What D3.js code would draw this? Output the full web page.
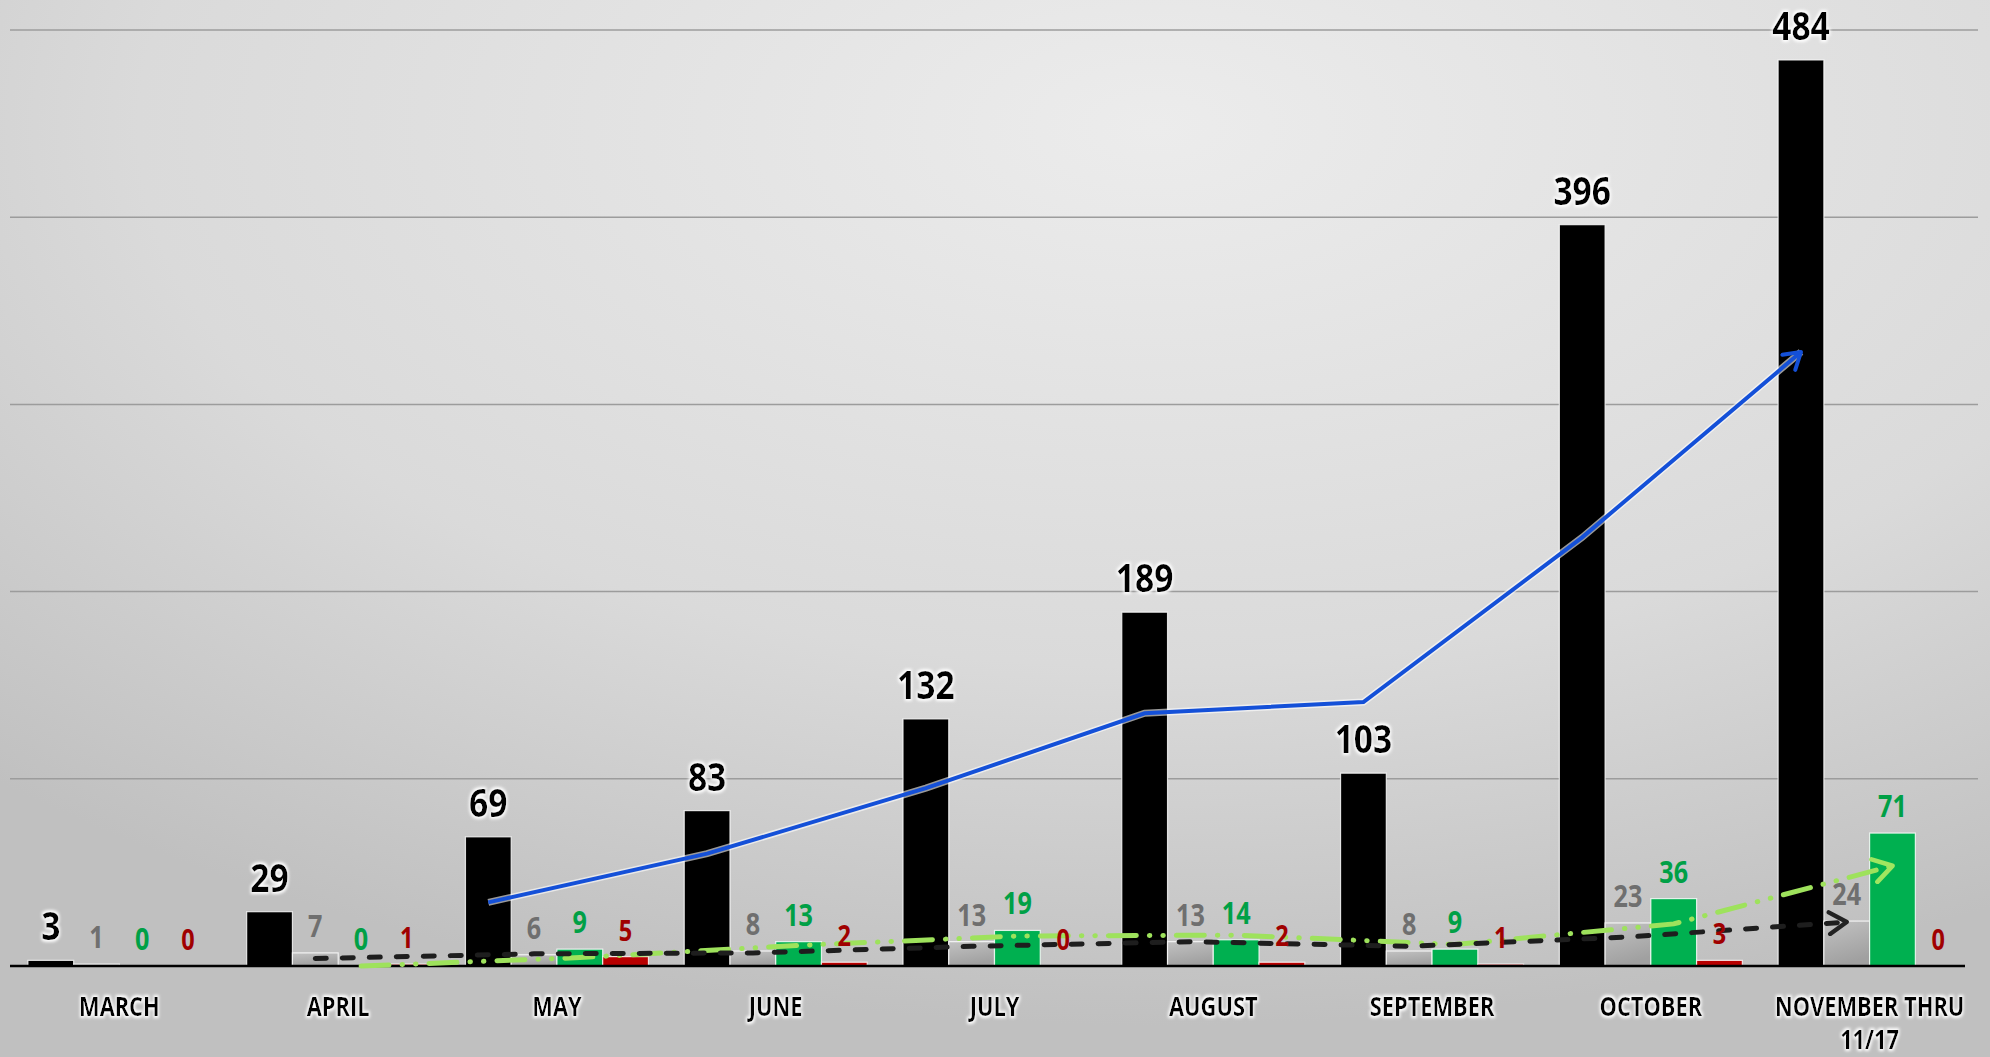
<!DOCTYPE html>
<html>
<head>
<meta charset="utf-8">
<script src="https://cdn.jsdelivr.net/npm/d3@7"></script>
<style>
  html, body { margin: 0; padding: 0; overflow: hidden; }
  svg { display: block; }
  text { font-family: "Open Sans", "Liberation Sans", sans-serif; font-weight: 700; }
</style>
</head>
<body>
<div id="chart"></div>
<script>
// Chart data
const months = ['MARCH', 'APRIL', 'MAY', 'JUNE', 'JULY', 'AUGUST', 'SEPTEMBER', 'OCTOBER', 'NOVEMBER THRU|11/17'];
const seriesKeys = ['black', 'gray', 'green', 'red'];
const blackValues = [3, 29, 69, 83, 132, 189, 103, 396, 484];
const grayValues = [1, 7, 6, 8, 13, 13, 8, 23, 24];
const greenValues = [0, 0, 9, 13, 19, 14, 9, 36, 71];
const redValues = [0, 1, 5, 2, 0, 2, 1, 3, 0];

// trend lines (start month index, values)
const blueTrendStart = 2;
const blueTrend = [34, 60, 95, 135, 141, 229, 328];
const grayTrendStart = 1;
const grayTrend = [4, 6.5, 7, 10.5, 13, 10.5, 15.5, 23.5];
const greenTrendStart = 1;
const greenTrend = [0, 4.5, 11, 16, 16.5, 11.5, 22.5, 53.5];

const gridTicks = [100, 200, 300, 400, 500];

const W = 1990, H = 1057;
const squeeze = 0.84; // narrow the glyphs a bit

const svg = d3.select('#chart')
  .append('svg')
  .attr('width', W)
  .attr('height', H);

const defs = svg.append('defs');

// background gradient
const bg = defs.append('radialGradient')
  .attr('id', 'bg')
  .attr('cx', '58%').attr('cy', '12%').attr('r', '85%');
bg.append('stop').attr('offset', '0%').attr('stop-color', '#ececec');
bg.append('stop').attr('offset', '60%').attr('stop-color', '#dadada');
bg.append('stop').attr('offset', '100%').attr('stop-color', '#c0c0c0');

const grayGrad = defs.append('linearGradient')
  .attr('id', 'grayBar').attr('x1', 0).attr('y1', 0).attr('x2', 0.3).attr('y2', 1);
grayGrad.append('stop').attr('offset', '0%').attr('stop-color', '#c2c2c2');
grayGrad.append('stop').attr('offset', '100%').attr('stop-color', '#a0a0a0');

// soft white glow for text
const glow = defs.append('filter').attr('id', 'glow')
  .attr('x', '-20%').attr('y', '-20%').attr('width', '140%').attr('height', '140%');
glow.append('feMorphology').attr('in', 'SourceAlpha').attr('operator', 'dilate').attr('radius', 1.5).attr('result', 'd');
glow.append('feGaussianBlur').attr('in', 'd').attr('stdDeviation', 1.6).attr('result', 'b');
glow.append('feFlood').attr('flood-color', '#ffffff').attr('result', 'f');
glow.append('feComposite').attr('in', 'f').attr('in2', 'b').attr('operator', 'in').attr('result', 'g');
const gm = glow.append('feMerge');
gm.append('feMergeNode').attr('in', 'g');
gm.append('feMergeNode').attr('in', 'SourceGraphic');

// arrow markers
function arrow(id, color, size) {
  defs.append('marker')
    .attr('id', id)
    .attr('viewBox', '0 0 12 12')
    .attr('refX', 10).attr('refY', 6)
    .attr('markerWidth', size).attr('markerHeight', size)
    .attr('markerUnits', 'userSpaceOnUse')
    .attr('orient', 'auto')
    .append('path')
    .attr('d', 'M2,1 L10,6 L2,11')
    .attr('fill', 'none')
    .attr('stroke', color)
    .attr('stroke-width', 2)
    .attr('stroke-linecap', 'round')
    .attr('stroke-linejoin', 'round');
}
arrow('arrowBlue', '#1450d8', 24);
arrow('arrowBlack', '#222222', 26);
arrow('arrowGreen', '#a0e660', 28);

svg.append('rect').attr('width', W).attr('height', H).attr('fill', 'url(#bg)');

// scales
const x = d3.scaleBand()
  .domain(months)
  .range([10, 1979])
  .paddingInner(0.1636)
  .paddingOuter(0.0818);

const xs = d3.scaleBand()
  .domain(seriesKeys)
  .range([0, x.bandwidth()]);

const y = d3.scaleLinear()
  .domain([0, 500])
  .range([966, 30]);

// gridlines
svg.append('g')
  .selectAll('line')
  .data(gridTicks)
  .enter()
  .append('line')
  .attr('x1', 10).attr('x2', 1978)
  .attr('y1', (d) => y(d)).attr('y2', (d) => y(d))
  .attr('stroke', '#9c9c9c')
  .attr('stroke-width', 1.5);

const series = {
  black: { values: blackValues, fill: '#000000', label: '#000000', size: 40, gap: 20 },
  gray: { values: grayValues, fill: 'url(#grayBar)', label: '#6f6f6f', size: 30, gap: 16 },
  green: { values: greenValues, fill: '#00b050', label: '#00a046', size: 30, gap: 16 },
  red: { values: redValues, fill: '#b80000', label: '#a00000', size: 28, gap: 16 },
};

const barData = [];
months.forEach((m, i) => {
  seriesKeys.forEach((k) => {
    barData.push({ month: m, key: k, value: series[k].values[i] });
  });
});

// bars
svg.append('g')
  .selectAll('rect')
  .data(barData.filter((d) => d.value > 0))
  .enter()
  .append('rect')
  .attr('x', (d) => x(d.month) + xs(d.key))
  .attr('width', xs.bandwidth())
  .attr('y', (d) => y(d.value))
  .attr('height', (d) => y(0) - y(d.value))
  .attr('fill', (d) => series[d.key].fill)
  .attr('stroke', '#ffffff')
  .attr('stroke-opacity', 0.8)
  .attr('stroke-width', 1.2);

// baseline
svg.append('line')
  .attr('x1', 10).attr('x2', 1965)
  .attr('y1', y(0)).attr('y2', y(0))
  .attr('stroke', '#000000')
  .attr('stroke-width', 2.5);

// trend lines
function cx(i, key) {
  return x(months[i]) + xs(key) + xs.bandwidth() / 2;
}

const line = d3.line().x((d) => d[0]).y((d) => d[1]);

const greenPts = greenTrend.map((v, j) => [cx(j + greenTrendStart, 'green'), y(v)]);
const grayPts = grayTrend.map((v, j) => [cx(j + grayTrendStart, 'gray'), y(v)]);
const bluePts = blueTrend.map((v, j) => [cx(j + blueTrendStart, 'black'), y(v)]);

svg.append('path')
  .attr('d', line(greenPts))
  .attr('fill', 'none')
  .attr('stroke', '#9ee25c')
  .attr('stroke-width', 5)
  .attr('stroke-linecap', 'round')
  .attr('stroke-dasharray', '28 13 0.5 13 0.5 13')
  .attr('marker-end', 'url(#arrowGreen)');

svg.append('path')
  .attr('d', line(grayPts))
  .attr('fill', 'none')
  .attr('stroke', '#1e1e1e')
  .attr('stroke-width', 5)
  .attr('stroke-linecap', 'round')
  .attr('stroke-dasharray', '11 16')
  .attr('marker-end', 'url(#arrowBlack)');

svg.append('path')
  .attr('d', line(bluePts))
  .attr('fill', 'none')
  .attr('stroke', '#ffffff')
  .attr('stroke-opacity', 0.6)
  .attr('stroke-width', 7);

svg.append('path')
  .attr('d', line(bluePts))
  .attr('fill', 'none')
  .attr('stroke', '#1450d8')
  .attr('stroke-width', 4)
  .attr('marker-end', 'url(#arrowBlue)');

// value labels
svg.append('g')
  .selectAll('text')
  .data(barData)
  .enter()
  .append('text')
  .attr('transform', (d) =>
    `translate(${x(d.month) + xs(d.key) + xs.bandwidth() / 2},${y(d.value) - series[d.key].gap}) scale(${squeeze},1)`)
  .attr('text-anchor', 'middle')
  .attr('fill', (d) => series[d.key].label)
  .style('font-size', (d) => series[d.key].size + 'px')
  .attr('filter', (d) => (d.key === 'black' ? 'url(#glow)' : null))
  .text((d) => d.value);

// category labels
const cat = svg.append('g')
  .selectAll('text')
  .data(months)
  .enter()
  .append('text')
  .attr('transform', (d) => `translate(${x(d) + x.bandwidth() / 2},1016) scale(${squeeze},1)`)
  .attr('text-anchor', 'middle')
  .attr('fill', '#000000')
  .attr('filter', 'url(#glow)')
  .style('font-size', '26px');

cat.each(function (d) {
  const parts = d.split('|');
  const t = d3.select(this);
  parts.forEach((p, i) => {
    t.append('tspan')
      .attr('x', 0)
      .attr('dy', i === 0 ? 0 : 33)
      .text(p);
  });
});
</script>
</body>
</html>
